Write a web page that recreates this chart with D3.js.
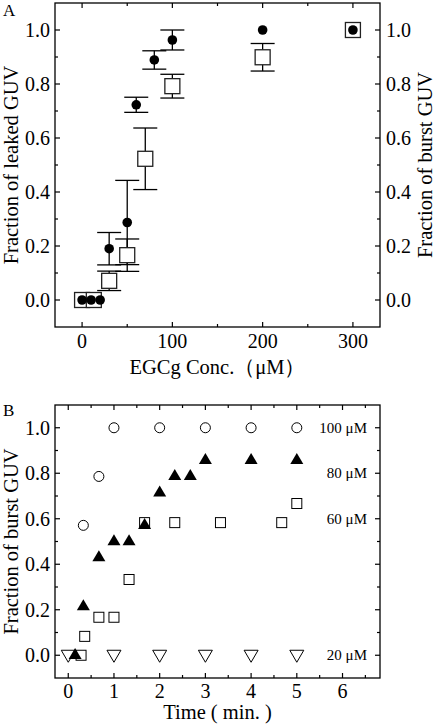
<!DOCTYPE html>
<html><head><meta charset="utf-8">
<script src="https://cdn.jsdelivr.net/npm/d3@7"></script>
<style>body{margin:0;background:#fff}svg{display:block}text{font-family:"Liberation Serif","Times New Roman",serif;fill:#000}</style>
</head><body><svg id="c" width="435" height="726"></svg>
<script>
// Panel A data
const concLeak = [0,10,20,30,50,60,80,100,200,300];
const leaked   = [0,0,0,0.19,0.287,0.723,0.889,0.963,1.0,1.0];
const leakedErr= [0,0,0,0.06,0.156,0.028,0.034,0.037,0,0];
const concBurst = [0,13,30,50,70,100,200,300];
const burst     = [0,0,0.071,0.166,0.523,0.792,0.899,1.0];
const burstErr  = [0,0,0.036,0.06,0.114,0.044,0.051,0];
const xTicksA = [0,100,200,300];
const yTicks = [0,0.2,0.4,0.6,0.8,1.0];
// Panel B data
const t100 = [0.33,0.67,1,2,3,4,5];
const f100 = [0.571,0.786,1,1,1,1,1];
const t80 = [0.15,0.33,0.67,1,1.33,1.67,2,2.33,2.67,3,4,5];
const f80 = [0,0.214,0.429,0.5,0.5,0.571,0.714,0.786,0.786,0.857,0.857,0.857];
const t60 = [0.28,0.36,0.67,1,1.33,1.67,2.33,3.33,4.67,5];
const f60 = [0,0.083,0.167,0.167,0.333,0.583,0.583,0.583,0.583,0.667];
const t20 = [0,1,2,3,4,5];
const f20 = [0,0,0,0,0,0];
const xTicksB = [0,1,2,3,4,5,6];
const concLabels = ["100 μM","80 μM","60 μM","20 μM"];
const concLabelY = [1.0,0.8,0.6,0.0];

const svg = d3.select("#c");
const L=55,R=380;
const A={top:3,bottom:327}, B={top:405,bottom:678};
const xA=d3.scaleLinear().domain([-30,330]).range([L,R]);
const yA=d3.scaleLinear().domain([-0.1,1.1]).range([A.bottom,A.top]);
const xB=d3.scaleLinear().domain([-0.29,6.82]).range([L,R]);
const yB=d3.scaleLinear().domain([-0.1,1.1]).range([B.bottom,B.top]);
const fmt=d3.format(".1f");
const TF=20, TT=20.5;

function frame(x,y,xt,xMinor,yMinor,rightLabels,xTickY){
  const g=svg.append("g");
  const [y0,y1]=y.range();
  g.append("rect").attr("x",L).attr("y",y1).attr("width",R-L).attr("height",y0-y1)
    .attr("fill","none").attr("stroke","#000").attr("stroke-width",1.3);
  const tk=(x1,y1_,x2,y2)=>g.append("line").attr("x1",x1).attr("y1",y1_).attr("x2",x2).attr("y2",y2).attr("stroke","#000").attr("stroke-width",1.2);
  xMinor.forEach(v=>{const m=xt.includes(v)?5:3;const px=x(v);tk(px,y0,px,y0-m);tk(px,y1,px,y1+m);});
  yMinor.forEach(v=>{const m=yTicks.some(t=>Math.abs(t-v)<1e-6)?5:3;const py=y(v);tk(L,py,L+m,py);tk(R,py,R-m,py);});
  g.selectAll(".xl").data(xt).join("text").attr("x",d=>x(d)).attr("y",xTickY)
    .attr("text-anchor","middle").attr("font-size",TF).text(d=>d);
  g.selectAll(".yl").data(yTicks).join("text").attr("x",L-5).attr("y",d=>y(d)).attr("dy","0.34em")
    .attr("text-anchor","end").attr("font-size",TF).text(d=>fmt(d));
  if(rightLabels) g.selectAll(".yr").data(yTicks).join("text").attr("x",R+6).attr("y",d=>y(d)).attr("dy","0.34em")
    .attr("text-anchor","start").attr("font-size",TF).text(d=>fmt(d));
}
frame(xA,yA,xTicksA,d3.range(0,301,50),d3.range(0,10.5,1).map(v=>v/10),true,348);
frame(xB,yB,xTicksB,d3.range(0,6.6,0.5),d3.range(0,10.5,1).map(v=>v/10),false,698);

// titles
svg.append("text").attr("x",3).attr("y",16).attr("font-size",17).text("A");
svg.append("text").attr("x",3).attr("y",416).attr("font-size",17).text("B");
svg.append("text").attr("x",(L+R)/2).attr("y",374).attr("text-anchor","middle").attr("font-size",TT).text("EGCg Conc.（μM）");
svg.append("text").attr("x",(L+R)/2).attr("y",719).attr("text-anchor","middle").attr("font-size",TT).text("Time ( min. )");
const vt=(cx,cy,t)=>svg.append("text").attr("transform",`translate(${cx},${cy}) rotate(-90)`).attr("text-anchor","middle").attr("font-size",TT).text(t);
vt(18,(A.top+A.bottom)/2,"Fraction of leaked GUV");
vt(432,(A.top+A.bottom)/2,"Fraction of burst GUV");
vt(18,(B.top+B.bottom)/2,"Fraction of burst GUV");

// Panel A error bars
const gA=svg.append("g");
function errbars(xs,ys,es){
  xs.forEach((c,i)=>{ if(!es[i]) return;
    const px=xA(c), t=yA(ys[i]+es[i]), b=yA(ys[i]-es[i]);
    gA.append("line").attr("x1",px).attr("x2",px).attr("y1",t).attr("y2",b).attr("stroke","#000").attr("stroke-width",1.3);
    [t,b].forEach(py=>gA.append("line").attr("x1",px-12).attr("x2",px+12).attr("y1",py).attr("y2",py).attr("stroke","#000").attr("stroke-width",1.3));
  });
}
errbars(concLeak,leaked,leakedErr);
errbars(concBurst,burst,burstErr);
concBurst.forEach((c,i)=>gA.append("rect").attr("x",xA(c)-7.5).attr("y",yA(burst[i])-7.5).attr("width",15).attr("height",15)
  .attr("fill","#fff").attr("stroke","#222").attr("stroke-width",1.3));
concLeak.forEach((c,i)=>gA.append("circle").attr("cx",xA(c)).attr("cy",yA(leaked[i])).attr("r",4.8).attr("fill","#000"));

// Panel B markers
const gB=svg.append("g");
const tri=(w,h)=>`M0,${-h*2/3}L${w/2},${h/3}L${-w/2},${h/3}Z`;
const itri=(w,h)=>`M0,${h*2/3}L${w/2},${-h/3}L${-w/2},${-h/3}Z`;
t20.forEach((t,i)=>gB.append("path").attr("d",itri(14,12)).attr("transform",`translate(${xB(t)},${yB(f20[i])-1})`)
  .attr("fill","#fff").attr("stroke","#000").attr("stroke-width",1));
t60.forEach((t,i)=>gB.append("rect").attr("x",xB(t)-5).attr("y",yB(f60[i])-5).attr("width",10).attr("height",10)
  .attr("fill","#fff").attr("stroke","#000").attr("stroke-width",1));
t100.forEach((t,i)=>gB.append("circle").attr("cx",xB(t)).attr("cy",yB(f100[i])).attr("r",5)
  .attr("fill","#fff").attr("stroke","#000").attr("stroke-width",1));
t80.forEach((t,i)=>gB.append("path").attr("d",tri(13,11)).attr("transform",`translate(${xB(t)},${yB(f80[i])})`)
  .attr("fill","#000"));
concLabels.forEach((s,i)=>gB.append("text").attr("x",367).attr("y",yB(concLabelY[i])).attr("dy","0.34em")
  .attr("text-anchor","end").attr("font-size",15).text(s));
</script></body></html>
